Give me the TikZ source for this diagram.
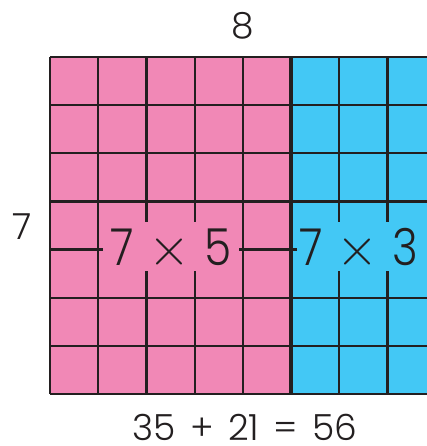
\documentclass[tikz,border=0pt]{standalone}
\usepackage{fontspec}
\setmainfont{Poppins}[UprightFont=* Light]
\newfontfamily\bigf{Poppins}[UprightFont=* Light,FakeStretch=0.86]
\newfontfamily\lmr{lmroman10-regular.otf}
\definecolor{pinkc}{RGB}{241,136,182}
\definecolor{bluec}{RGB}{67,200,245}
\definecolor{linec}{RGB}{35,31,32}
\newcommand{\tms}{{\lmr\fontsize{54}{54}\selectfont ×}}
\newcommand{\gap}{\hspace{14pt}}
\begin{document}
\begin{tikzpicture}[x=1pt,y=-1pt,
  gridline/.style={draw=linec,line width=2.2pt},
  divline/.style={draw=linec,line width=4.5pt},
  biglabel/.style={font=\bigf\fontsize{51}{51}\selectfont,text=linec,inner sep=0pt,text height=43pt,text depth=6pt,anchor=base},
  smalllabel/.style={font=\fontsize{36}{36}\selectfont,text=linec,inner sep=0pt,anchor=base}]
\useasboundingbox (0,0) rectangle (427,446);
\clip (0,0) rectangle (427,446);
\fill[pinkc] (50,57) rectangle (291,394);
\fill[bluec] (291,57) rectangle (440,394);
\foreach \i in {0,...,7} {
  \draw[gridline] (0,57+\i*48.14) ++(50,0) -- ++(390,0);
}
\draw[gridline] (50,394) -- (440,394);
\foreach \i in {0,2,3,6,7} {
  \draw[gridline] (50+\i*48.2,57) -- (50+\i*48.2,394);
}
\node[biglabel,fill=pinkc,text width=136pt,align=center] (a) at (171,265) {7\gap\tms\gap 5};
\node[biglabel,fill=bluec,anchor=base west,inner xsep=2pt,text width=140pt,align=left] (b) at (297,265) {7\gap\tms\gap 3};
\foreach \i in {1,4} {
  \draw[gridline] (50+\i*48.2,57) -- (50+\i*48.2,394);
}
\draw[divline] (291,57) -- (291,394);
\node[smalllabel] (top) at (243,39) {8};
\node[smalllabel] (left) at (22,239) {7};
\node[smalllabel] (bottom) at (245,440) {35\hspace{0.4em}+\hspace{0.4em}21\hspace{0.4em}=\hspace{0.4em}56};
\end{tikzpicture}
\end{document}
